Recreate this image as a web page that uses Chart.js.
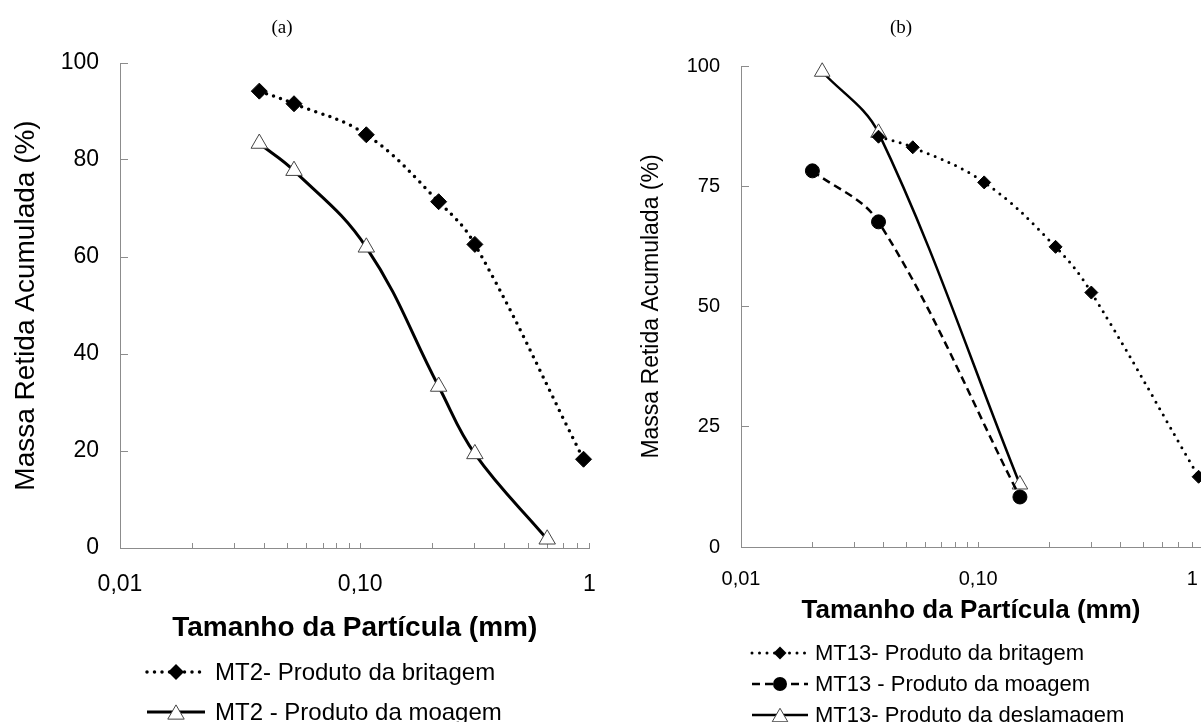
<!DOCTYPE html>
<html><head><meta charset="utf-8">
<script src="https://cdn.jsdelivr.net/npm/chart.js@4.4.0/dist/chart.umd.min.js"></script>
<style>
html,body{margin:0;padding:0;background:#fff;width:1201px;height:722px;overflow:hidden;position:relative;font-family:"Liberation Sans",Arial,sans-serif;}
canvas{position:absolute;top:0;}
#cA{left:0;} #cB{left:600px;}
.ttl{position:absolute;font-family:"Liberation Serif","Times New Roman",serif;font-size:19px;transform:translate(-50%,-50%);white-space:nowrap;color:#000;}
.leg{position:absolute;display:flex;align-items:center;white-space:nowrap;color:#000;transform:translateY(-50%);}
.leg svg{display:block;flex:none;}
</style>
</head><body>
<canvas id="cA" width="600" height="722"></canvas>
<canvas id="cB" width="611" height="722"></canvas>
<div class="ttl" style="left:282px;top:27px">(a)</div>
<div class="ttl" style="left:901px;top:27px">(b)</div>
<div id="legA"></div>
<div id="legB"></div>
<script>
// ---------- data ----------
const xLabelText = 'Tamanho da Partícula (mm)';
const yLabelText = 'Massa Retida Acumulada (%)';
const xTickLabels = ['0,01', '0,10', '1'];

const namesA = ['MT2- Produto da britagem', 'MT2 - Produto da moagem'];
const xA_britagem = [0.038, 0.053, 0.106, 0.212, 0.3, 0.85];
const yA_britagem = [94.2, 91.6, 85.2, 71.4, 62.6, 18.3];
const xA_moagem = [0.038, 0.053, 0.106, 0.212, 0.3, 0.6];
const yA_moagem = [83.4, 77.8, 62.0, 33.3, 19.4, 1.8];

const namesB = ['MT13- Produto da britagem', 'MT13 - Produto da moagem', 'MT13- Produto da deslamagem'];
const xB_britagem = [0.038, 0.053, 0.106, 0.212, 0.3, 0.85];
const yB_britagem = [85.3, 83.1, 75.8, 62.4, 52.9, 14.6];
const xB_moagem = [0.02, 0.038, 0.15];
const yB_moagem = [78.2, 67.6, 10.4];
const xB_deslamagem = [0.022, 0.038, 0.15];
const yB_deslamagem = [98.8, 86.1, 13.0];

const yTicksA = [0, 20, 40, 60, 80, 100];
const yTicksB = [0, 25, 50, 75, 100];

// ---------- helpers ----------
const pts = (xs, ys) => xs.map((x, i) => ({x: x, y: ys[i]}));
const FONT = '"Liberation Sans", Arial, sans-serif';

function styleDotted(lw, gap, r) {
  return {borderWidth: lw, borderDash: [0, gap], borderCapStyle: 'round', pointStyle: 'rectRot',
    pointRadius: r, pointBackgroundColor: '#000', pointBorderColor: '#000', pointBorderWidth: 1, _dash: 'dot'};
}
function styleSolidTri(lw, r) {
  return {borderWidth: lw, borderDash: [], pointStyle: 'triangle', pointRadius: r,
    pointBackgroundColor: '#fff', pointBorderColor: '#444', pointBorderWidth: 1, _dash: 'solid'};
}
function styleDashedCircle(lw, r) {
  return {borderWidth: lw, borderDash: [8, 5], pointStyle: 'circle', pointRadius: r,
    pointBackgroundColor: '#000', pointBorderColor: '#000', pointBorderWidth: 1, _dash: 'dash'};
}

function makeDs(label, xs, ys, st, tension) {
  return Object.assign({label: label, data: pts(xs, ys), borderColor: '#000', backgroundColor: '#000',
    fill: false, tension: tension, clip: false, pointHoverRadius: st.pointRadius}, st);
}

function logTicks(max) {
  const out = [];
  [0.01, 0.1].forEach(d => { for (let k = 1; k <= 9; k++) { const v = d * k; if (v <= max * 1.0001) out.push(v); } });
  return out;
}

function makeChart(id, datasets, g) {
  const tickVals = logTicks(g.xmax);
  return new Chart(document.getElementById(id), {
    type: 'line',
    data: {datasets: datasets},
    options: {
      responsive: false, animation: false, devicePixelRatio: 1,
      layout: {padding: g.pad},
      plugins: {legend: {display: false}, tooltip: {enabled: false}, title: {display: false}},
      scales: {
        x: {
          type: 'logarithmic', min: 0.01, max: g.xmax,
          afterBuildTicks: s => { s.ticks = tickVals.map(v => ({value: v})); },
          afterFit: s => { s.height = g.xh; s.paddingLeft = 0; s.paddingRight = 0; },
          ticks: {autoSkip: false, maxRotation: 0, minRotation: 0, padding: g.xtp, color: '#000',
            font: {family: FONT, size: g.tick},
            callback: (v, i, arr) => {
              if (Math.abs(v - 0.01) < 1e-9) return xTickLabels[0];
              if (Math.abs(v - 0.1) < 1e-9) return xTickLabels[1];
              if (i === arr.length - 1) return xTickLabels[2];
              return '';
            }},
          grid: {drawOnChartArea: false, drawTicks: true, tickLength: -5, color: '#8c8c8c', lineWidth: 1},
          border: {display: true, color: '#8c8c8c', width: 1},
          title: {display: true, text: xLabelText, color: '#000',
            font: {family: FONT, size: g.xt, weight: 'bold'}, padding: {top: 0, bottom: g.xtpb}}
        },
        y: {
          type: 'linear', min: 0, max: 100,
          afterBuildTicks: s => { s.ticks = g.yticks.map(v => ({value: v})); },
          afterFit: s => { s.width = g.yw; s.paddingTop = 0; s.paddingBottom = 0; },
          ticks: {padding: g.ytp, color: '#000', font: {family: FONT, size: g.tick}},
          grid: {drawOnChartArea: false, drawTicks: true, tickLength: -8, color: '#8c8c8c', lineWidth: 1},
          border: {display: true, color: '#8c8c8c', width: 1},
          title: {display: true, text: yLabelText, color: '#000',
            font: {family: FONT, size: g.yt}, padding: {top: g.ytpt, bottom: 0}}
        }
      }
    }
  });
}

// ---------- charts ----------
const dsA = [
  makeDs(namesA[0], xA_britagem, yA_britagem, styleDotted(3.5, 7.5, 8), 0.4),
  makeDs(namesA[1], xA_moagem, yA_moagem, styleSolidTri(3, 9.5), 0.4)
];
const dsB = [
  makeDs(namesB[0], xB_britagem, yB_britagem, styleDotted(3, 7.5, 6.5), 0.4),
  makeDs(namesB[1], xB_moagem, yB_moagem, styleDashedCircle(2.5, 7), 0.35),
  makeDs(namesB[2], xB_deslamagem, yB_deslamagem, styleSolidTri(2.5, 9), 0.35)
];

makeChart('cA', dsA, {xmax: 0.9, pad: {left: 0, top: 63, right: 4, bottom: 0}, xh: 174, yw: 120,
  tick: 23, xtp: 28, ytp: 29, xt: 28, xtpb: 77, yt: 28, ytpt: 9, yticks: yTicksA});
makeChart('cB', dsB, {xmax: 0.87, pad: {left: 0, top: 66, right: 0, bottom: 0}, xh: 175, yw: 141,
  tick: 20, xtp: 25, ytp: 29, xt: 26, xtpb: 96, yt: 23, ytpt: 38, yticks: yTicksB});

// ---------- legends (HTML, built from the datasets) ----------
function sampleSvg(ds, w) {
  const h = 22, cy = h / 2, cx = w / 2;
  let dash = '';
  if (ds._dash === 'dot') dash = 'stroke-dasharray="0 ' + ds.borderDash[1] + '" stroke-linecap="round"';
  else if (ds._dash === 'dash') dash = 'stroke-dasharray="' + ds.borderDash.join(' ') + '"';
  let s = '<svg width="' + w + '" height="' + h + '"><line x1="2" y1="' + cy + '" x2="' + (w - 2) + '" y2="' + cy +
    '" stroke="#000" stroke-width="' + ds.borderWidth + '" ' + dash + '/>';
  const r = ds.pointRadius;
  if (ds.pointStyle === 'rectRot') {
    s += '<polygon points="' + cx + ',' + (cy - r) + ' ' + (cx + r) + ',' + cy + ' ' + cx + ',' + (cy + r) + ' ' + (cx - r) + ',' + cy + '" fill="#000"/>';
  } else if (ds.pointStyle === 'circle') {
    s += '<circle cx="' + cx + '" cy="' + cy + '" r="' + r + '" fill="#000"/>';
  } else {
    const hw = r * Math.sin(Math.PI / 3), top = cy - r * 0.75, bot = cy + r * 0.75;
    s += '<polygon points="' + cx + ',' + top + ' ' + (cx + hw) + ',' + bot + ' ' + (cx - hw) + ',' + bot + '" fill="#fff" stroke="#444" stroke-width="1"/>';
  }
  return s + '</svg>';
}
function buildLegend(id, dsList, rows, left, sw, gap, fs) {
  const el = document.getElementById(id);
  dsList.forEach((ds, i) => {
    const d = document.createElement('div');
    d.className = 'leg';
    d.style.left = left + 'px';
    d.style.top = rows[i] + 'px';
    d.style.fontSize = fs + 'px';
    d.innerHTML = sampleSvg(ds, sw) + '<span style="margin-left:' + gap + 'px">' + ds.label + '</span>';
    el.appendChild(d);
  });
}
buildLegend('legA', dsA, [672, 712], 145, 62, 8, 24);
buildLegend('legB', dsB, [653, 684, 715], 750, 60, 5, 22);
</script>
</body></html>
